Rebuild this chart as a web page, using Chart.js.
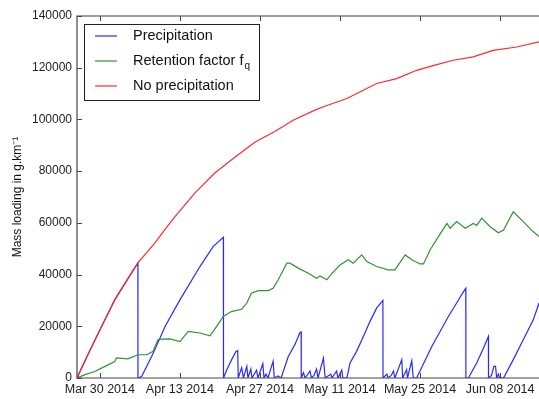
<!DOCTYPE html>
<html>
<head>
<meta charset="utf-8">
<script src="https://cdn.jsdelivr.net/npm/chart.js@4/dist/chart.umd.min.js"></script>
<style>
  body { margin: 0; background: #fff; }
</style>
</head>
<body>
<canvas id="chart" width="539" height="399"></canvas>
<script>
// days counted from Mar 30 2014
const xTickDays = [0, 14, 28, 42, 56, 70];
const xTickLabels = ['Mar 30 2014', 'Apr 13 2014', 'Apr 27 2014', 'May 11 2014', 'May 25 2014', 'Jun 08 2014'];

const seriesLabels = ['Precipitation', 'Retention factor f', 'No precipitation'];
const seriesSubscripts = ['', 'q', ''];

const precipDays = [-4, -2, 0, 2.6, 4.5, 6.65, 6.66, 7.3, 9.05, 10.5,
    11.4, 14, 17.5, 19.8, 21.6, 21.62, 22.2, 23.05, 23.8, 24.1,
    24.2, 24.8, 25.1, 25.7, 25.9, 26.4, 26.6, 27.4, 27.65, 28.5,
    28.7, 29.05, 29.4, 30.3, 30.5, 31.15, 31.7, 31.85, 32.95, 34.1,
    35, 35.2, 35.22, 35.6, 35.9, 36.75, 37, 37.45, 37.9, 38.15,
    39.1, 39.4, 39.7, 40.4, 40.6, 41.4, 41.65, 42.3, 42.5, 43.2,
    43.75, 44.9, 46.1, 47.25, 48.4, 49.5, 49.52, 50.2, 50.4, 50.95,
    51.35, 51.6, 52.8, 52.95, 53.65, 53.8, 54.55, 54.8, 55.4, 58.05,
    60.95, 62.4, 63.6, 64, 64.01, 64.45, 65.9, 67.1, 67.95, 67.97,
    68.5, 68.9, 69.2, 69.4, 69.7, 69.9, 70.6, 72.3, 74.05, 75.8,
    76.8];
const precipValues = [0, 9500, 18600, 30200, 37000, 44500, 0, 600, 8300, 15400,
    19900, 30200, 43100, 50800, 54400, 0, 3200, 7100, 10300, 10600,
    0, 4000, 0, 4500, 0, 3500, 0, 3000, 0, 5500,
    0, 1500, 0, 6500, 0, 800, 0, 0, 8300, 12900,
    17600, 17800, 0, 2000, 0, 2700, 0, 1000, 3500, 0,
    7700, 0, 500, 1500, 0, 2700, 0, 3100, 0, 0,
    5800, 10300, 16100, 21900, 27000, 30000, 0, 1500, 0, 1000,
    2700, 0, 7100, 0, 3200, 0, 6700, 0, 0, 12200,
    23800, 29000, 33400, 34700, 0, 0, 5800, 11600, 16100, 0,
    1000, 4500, 4500, 0, 1500, 0, 0, 7100, 14800, 22500,
    29000];

const retentionDays = [-4, -2.6, -0.9, 0.9, 2.6, 2.9, 4.9, 6.65, 8.2, 9.3,
    10.15, 10.8, 12.25, 14, 15.45, 17.5, 19.25, 20.4, 21.6, 23,
    24.8, 25.7, 26.5, 27.7, 29.45, 30.3, 31.2, 32.7, 33.25, 34.7,
    36.45, 37.9, 38.5, 39.7, 40.5, 42, 43.45, 44.3, 45.8, 46.7,
    48.4, 50.45, 51.6, 53.4, 54.55, 56, 56.6, 57.75, 59.2, 60.7,
    61.25, 62.4, 63.9, 65.3, 65.9, 66.8, 68.25, 69.7, 70.6, 72.3,
    74.05, 75.5, 76.8];
const retentionValues = [0, 1300, 2500, 4500, 6400, 7800, 7400, 9000, 9000, 10300,
    14800, 15000, 15100, 14100, 18000, 17400, 16300, 19900, 23800, 25700,
    26600, 29000, 32800, 33800, 33800, 34700, 38000, 44400, 44400, 42500,
    40500, 38600, 39500, 38000, 40300, 43700, 45700, 44400, 47600, 45000,
    43100, 41800, 41800, 47600, 45700, 44100, 44100, 49500, 54700, 59800,
    57900, 60500, 57900, 59800, 59000, 61800, 58500, 56200, 57200, 64300,
    60500, 57200, 54700];

const noPrecipDays = [-4, -2, 0, 2.6, 4.5, 6.65, 9.6, 11.4, 13.1, 16.6,
    20.1, 23.6, 27.1, 30.6, 33.8, 37.6, 39.1, 43.2, 48.4, 51.9,
    55.4, 58.6, 61.8, 65.3, 68.8, 72.9, 76.8];
const noPrecipValues = [0, 9500, 18600, 30200, 37000, 44500, 52200, 57500, 62300, 71500,
    79300, 85400, 91200, 95300, 99700, 103600, 104900, 108100, 113900, 115800,
    119000, 121000, 122900, 124200, 126700, 128000, 130000];

const seriesColors = ['#2a2aff', '#2e952e', '#ff2a2a'];
const FONT = "'Liberation Sans', Arial, sans-serif";

function points(days, values) {
    return days.map((d, i) => ({ x: d, y: values[i] }));
}

// spines, inward ticks and the legend box
const frame = {
    id: 'frame',
    afterDraw(chart) {
        const { ctx, chartArea: a, scales: { x, y } } = chart;
        ctx.save();
        ctx.strokeStyle = '#444';
        ctx.lineWidth = 1.2;
        ctx.beginPath();
        ctx.moveTo(a.right + 2, a.top);
        ctx.lineTo(a.left, a.top);
        ctx.lineTo(a.left, a.bottom);
        ctx.lineTo(a.right + 2, a.bottom);
        ctx.stroke();

        ctx.lineWidth = 1;
        ctx.beginPath();
        x.ticks.forEach((t, i) => {
            const px = Math.round(x.getPixelForTick(i)) + 0.5;
            ctx.moveTo(px, a.bottom);
            ctx.lineTo(px, a.bottom - 5);
            ctx.moveTo(px, a.top);
            ctx.lineTo(px, a.top + 5);
        });
        y.ticks.forEach((t, i) => {
            const py = Math.round(y.getPixelForTick(i)) + 0.5;
            ctx.moveTo(a.left, py);
            ctx.lineTo(a.left + 5, py);
        });
        ctx.stroke();

        // legend
        const lx = a.left + 7, ly = a.top + 8;
        ctx.fillStyle = '#fff';
        ctx.fillRect(lx, ly, 175, 76);
        ctx.strokeStyle = '#222';
        ctx.lineWidth = 1;
        ctx.strokeRect(lx + 0.5, ly + 0.5, 175, 76);
        chart.data.datasets.forEach((ds, i) => {
            const ry = ly + 12 + i * 25;
            ctx.strokeStyle = ds.borderColor;
            ctx.lineWidth = 1.2;
            ctx.beginPath();
            ctx.moveTo(lx + 11, ry);
            ctx.lineTo(lx + 33, ry);
            ctx.stroke();
            ctx.fillStyle = '#111';
            ctx.font = '14.5px ' + FONT;
            ctx.textBaseline = 'middle';
            ctx.textAlign = 'left';
            const tx = lx + 49;
            ctx.fillText(ds.label, tx, ry);
            if (seriesSubscripts[i]) {
                const w = ctx.measureText(ds.label).width;
                ctx.font = '10px ' + FONT;
                ctx.fillText(seriesSubscripts[i], tx + w + 1, ry + 5);
            }
        });
        ctx.restore();
    }
};

new Chart(document.getElementById('chart'), {
    type: 'line',
    data: {
        datasets: [
            { label: seriesLabels[0], data: points(precipDays, precipValues), order: 2 },
            { label: seriesLabels[1], data: points(retentionDays, retentionValues), order: 1 },
            { label: seriesLabels[2], data: points(noPrecipDays, noPrecipValues), order: 0 }
        ].map((ds, i) => Object.assign(ds, {
            borderColor: seriesColors[i],
            backgroundColor: seriesColors[i],
            borderWidth: 1.2,
            pointRadius: 0,
            tension: 0,
            fill: false
        }))
    },
    options: {
        responsive: false,
        animation: false,
        events: [],
        layout: { padding: { top: 16, right: 0, bottom: 0, left: 0 } },
        plugins: {
            legend: { display: false },
            tooltip: { enabled: false }
        },
        scales: {
            x: {
                type: 'linear',
                min: -4,
                max: 76.8,
                grid: { display: false, drawTicks: false, tickLength: 0 },
                border: { display: false },
                afterBuildTicks: s => { s.ticks = xTickDays.map(v => ({ value: v })); },
                afterFit: s => { s.height = 21; },
                ticks: {
                    autoSkip: false,
                    maxRotation: 0,
                    padding: 4,
                    color: '#222',
                    font: { family: FONT, size: 12.5 },
                    callback: v => xTickLabels[xTickDays.indexOf(v)]
                }
            },
            y: {
                min: 0,
                max: 140000,
                grid: { display: false, drawTicks: false, tickLength: 0 },
                border: { display: false },
                afterFit: s => { s.width = 77; },
                ticks: {
                    stepSize: 20000,
                    padding: 5,
                    color: '#222',
                    font: { family: FONT, size: 12 },
                    callback: v => String(v)
                },
                title: {
                    display: true,
                    text: 'Mass loading in g.km⁻¹',
                    color: '#111',
                    padding: { top: 10, bottom: 0 },
                    font: { family: FONT, size: 12 }
                }
            }
        }
    },
    plugins: [frame]
});
</script>
</body>
</html>
